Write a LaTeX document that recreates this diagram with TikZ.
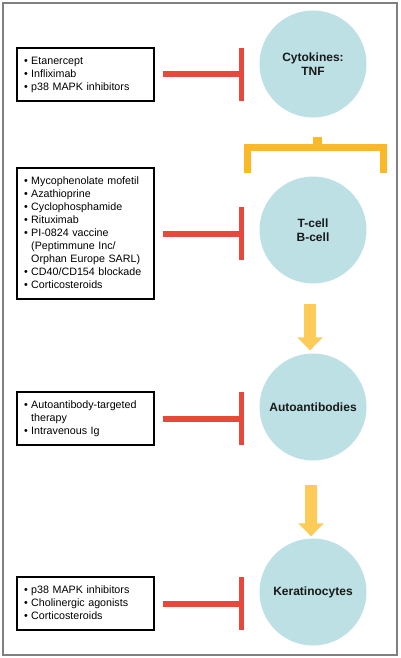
\documentclass[tikz,border=0pt]{standalone}
\usepackage{fontspec}
\setmainfont{Liberation Sans}
\usepackage{tikz}
\usetikzlibrary{arrows.meta}
\definecolor{cellblue}{HTML}{BCE0E4}
\definecolor{blockred}{HTML}{E8473B}
\definecolor{brackyellow}{HTML}{FBB828}
\definecolor{flowyellow}{HTML}{FDCB57}

\begin{document}
\begin{tikzpicture}[x=1pt,y=-1pt,
	cell/.style={circle, fill=cellblue, minimum size=107pt, inner sep=0pt, align=center,
		font=\fontsize{12}{14.5}\selectfont\bfseries, text=black!90},
	drugs/.style={draw, line width=1.2pt, minimum width=137pt, text width=123pt, inner sep=7pt,
		align=left, font=\fontsize{10.7}{13}\selectfont},
	block/.style={blockred, line width=6pt, shorten <=8pt, shorten >=15pt,
		-{Bar[width=53pt, line width=5pt]}},
	flow/.style={flowyellow, line width=12pt, -{Triangle[width=25pt, length=13pt]}}]
		\useasboundingbox (0,0) rectangle (400,658);
		\draw [line width=1.5pt, black!50] (3,3) rectangle (397,655);

		\node [cell] (tnf) at (313,64) {Cytokines:\\TNF};
		\node [cell] (tb) at (313,230) {T-cell\\B-cell};
		\node [cell] (auto) at (313,407) {Autoantibodies};
		\node [cell] (kera) at (313,592) {Keratinocytes};

		\node [drugs, minimum height=47pt] (d1) at (85.5,74.5) {\begin{tabular}{@{}l@{\hspace{3.5pt}}l@{}}
			• & Etanercept\\
			• & Infliximab\\
			• & p38 MAPK inhibitors
		\end{tabular}};
		\node [drugs, minimum height=129pt] (d2) at (85.5,233.5) {\begin{tabular}{@{}l@{\hspace{3.5pt}}l@{}}
			• & Mycophenolate mofetil\\
			• & Azathioprine\\
			• & Cyclophosphamide\\
			• & Rituximab\\
			• & PI-0824 vaccine\\
			  & (Peptimmune Inc/\\
			  & Orphan Europe SARL)\\
			• & CD40/CD154 blockade\\
			• & Corticosteroids
		\end{tabular}};
		\node [drugs, minimum height=49pt] (d3) at (85.5,418.5) {\begin{tabular}{@{}l@{\hspace{3.5pt}}l@{}}
			• & Autoantibody-targeted\\
			  & therapy\\
			• & Intravenous Ig
		\end{tabular}};
		\node [drugs, minimum height=49pt] (d4) at (85.5,603.5) {\begin{tabular}{@{}l@{\hspace{3.5pt}}l@{}}
			• & p38 MAPK inhibitors\\
			• & Cholinergic agonists\\
			• & Corticosteroids
		\end{tabular}};

		\draw [block] (d1.east) -- (d1.east -| tnf.west);
		\draw [block] (d2.east) -- (d2.east -| tb.west);
		\draw [block] (d3.east) -- (d3.east -| auto.west);
		\draw [block] (d4.east) -- (d4.east -| kera.west);

		\draw [brackyellow, line width=7pt] (247,173) |- (383,147.5) -- (383,173);
		\draw [brackyellow, line width=9pt] (317.5,147.5) -- (317.5,137);

		\draw [flow, shorten <=20pt, shorten >=3pt] ([xshift=-3pt]tb.south) -- ([xshift=-3pt]auto.north);
		\draw [flow, shorten <=24pt, shorten >=2pt] ([xshift=-2pt]auto.south) -- ([xshift=-2pt]kera.north);
\end{tikzpicture}
\end{document}
